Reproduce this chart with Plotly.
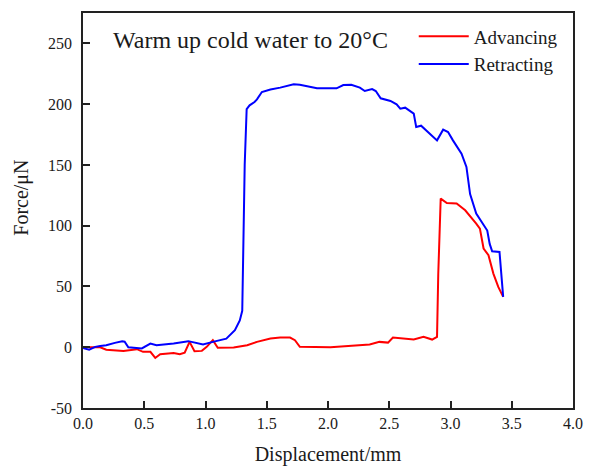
import plotly.graph_objects as go

# Retracting (blue)
ret_x = [0.00, 0.01, 0.05, 0.10, 0.14, 0.19, 0.26, 0.32, 0.34, 0.37, 0.48, 0.55, 0.60, 0.74, 0.86, 0.98, 1.06, 1.17, 1.24, 1.28, 1.30, 1.31, 1.32, 1.336,
         1.36, 1.40, 1.42, 1.46, 1.53, 1.61, 1.69, 1.72, 1.77, 1.83, 1.91, 2.07, 2.125, 2.19, 2.26, 2.30, 2.36, 2.39, 2.43, 2.51, 2.56, 2.59, 2.63, 2.70,
         2.72, 2.76, 2.89, 2.94, 2.98, 3.02, 3.09, 3.13, 3.16, 3.21, 3.24, 3.28, 3.30, 3.32, 3.34, 3.40, 3.43]
ret_y = [0.0, -1.0, -2.0, 0.3, 1.0, 1.6, 3.6, 4.9, 4.5, 0.0, -1.0, 3.0, 1.6, 3.0, 5.0, 2.2, 4.4, 7.1, 14.0, 22.0, 30.0, 94.0, 150.0, 196.0,
         199.0, 201.7, 204.0, 210.0, 212.0, 213.6, 215.5, 216.3, 216.0, 214.6, 213.0, 213.0, 215.7, 216.0, 213.6, 210.8, 212.4, 210.8, 204.8, 202.6, 199.8, 196.3, 197.1, 192.2,
         181.2, 182.3, 170.2, 179.0, 177.0, 170.2, 159.3, 148.3, 126.0, 110.0, 105.0, 99.0, 96.0, 85.0, 79.0, 78.4, 41.4]

# Advancing (red)
adv_x = [0.00, 0.14, 0.19, 0.33, 0.44, 0.49, 0.55, 0.59, 0.63, 0.74, 0.79, 0.83, 0.87, 0.91, 0.97, 1.01, 1.06, 1.10, 1.23, 1.34, 1.42, 1.53, 1.61,
         1.69, 1.73, 1.77, 2.02, 2.18, 2.34, 2.42, 2.49, 2.53, 2.64, 2.70, 2.78, 2.85, 2.89, 2.90, 2.92, 2.97, 3.05, 3.12, 3.21, 3.24, 3.27, 3.31, 3.35, 3.39, 3.43]
adv_y = [0.0, 0.0, -2.0, -3.0, -1.6, -3.8, -3.8, -8.8, -5.8, -4.7, -5.8, -4.4, 4.4, -3.3, -3.0, 0.3, 5.8, -0.5, -0.3, 1.6, 4.4, 7.1, 8.0,
         8.0, 5.8, 0.3, 0.0, 0.8, 2.2, 4.4, 3.8, 8.0, 7.1, 6.3, 8.5, 6.3, 8.5, 60.0, 122.3, 118.7, 118.2, 112.7, 101.7, 97.6, 81.2, 75.7, 60.6, 49.6, 41.4]

x_ticks = [0.0, 0.5, 1.0, 1.5, 2.0, 2.5, 3.0, 3.5, 4.0]
y_ticks = [-50, 0, 50, 100, 150, 200, 250]

FONT = "Liberation Serif"
TXT = "#1a1a1a"

fig = go.Figure()
fig.add_trace(go.Scatter(x=adv_x, y=adv_y, mode="lines", name="Advancing",
                         line=dict(color="#ff0000", width=2)))
fig.add_trace(go.Scatter(x=ret_x, y=ret_y, mode="lines", name="Retracting",
                         line=dict(color="#0000ff", width=2)))

axis_common = dict(showgrid=False, zeroline=False, showline=True, linecolor="#222",
                   linewidth=1.5, mirror=True, ticks="inside", ticklen=7, tickwidth=1.5,
                   tickcolor="#222", tickfont=dict(family=FONT, size=16, color=TXT))

fig.update_xaxes(range=[0, 4], tickvals=x_ticks, ticktext=[f"{v:.1f}" for v in x_ticks],
                 title=dict(text="Displacement/mm", font=dict(family=FONT, size=20, color=TXT), standoff=16),
                 **axis_common)
fig.update_yaxes(range=[-50, 275], tickvals=y_ticks, ticktext=[str(v) for v in y_ticks],
                 ticklabelstandoff=6, **axis_common)

# y-axis title placed as rotated text
fig.add_annotation(x=-0.126, y=0.533, xref="paper", yref="paper", xanchor="center", yanchor="middle",
                   text="Force/μN", textangle=-90, showarrow=False,
                   font=dict(family=FONT, size=20, color=TXT))

fig.add_annotation(x=0.057, y=0.932, xref="paper", yref="paper", xanchor="left", yanchor="middle",
                   text="Warm up cold water to 20°C", showarrow=False,
                   font=dict(family=FONT, size=24, color=TXT))

fig.update_layout(
    width=589, height=469,
    margin=dict(l=83, r=16, t=13, b=61, autoexpand=False),
    paper_bgcolor="white", plot_bgcolor="white",
    showlegend=True,
    legend=dict(x=0.675, y=0.989, xanchor="left", yanchor="top", bgcolor="rgba(0,0,0,0)",
                font=dict(family=FONT, size=19, color=TXT), tracegroupgap=0,
                itemwidth=50),
)

fig.write_html("out.html")
